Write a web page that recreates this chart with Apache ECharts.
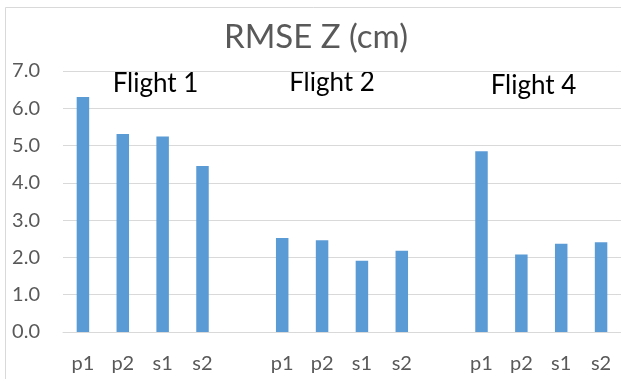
<!DOCTYPE html>
<html>
<head>
<meta charset="utf-8">
<script src="https://cdn.jsdelivr.net/npm/echarts@6/dist/echarts.min.js"></script>
<style>html,body{margin:0;padding:0;background:#fff;}#c{width:621px;height:379px;}</style>
</head>
<body>
<div id="c"></div>
<script>
const titleText = 'RMSE Z (cm)';
const methods = ['p1', 'p2', 's1', 's2'];
const flights = ['Flight 1', 'Flight 2', 'Flight 4'];
const flight1 = [6.30, 5.31, 5.24, 4.45];
const flight2 = [2.52, 2.46, 1.91, 2.18];
const flight4 = [4.85, 2.08, 2.37, 2.41];
const yTicks = [0, 1, 2, 3, 4, 5, 6, 7];

const groups = [flight1, flight2, flight4];
const categories = [];
const values = [];
groups.forEach((g, gi) => {
  methods.forEach((m, i) => { categories.push(m); values.push(g[i]); });
  if (gi < groups.length - 1) { categories.push(''); values.push(null); }
});

const FONT = 'Lato';
const chart = echarts.init(document.getElementById('c'));
chart.setOption({
  animation: false,
  backgroundColor: '#fff',
  grid: { left: 63, right: 0, top: 71, bottom: 47, containLabel: false },
  xAxis: {
    type: 'category',
    data: categories,
    axisLine: { show: true, lineStyle: { color: '#d9d9d9', width: 1 } },
    axisTick: { show: false },
    axisLabel: { color: '#595959', fontFamily: FONT, fontSize: 20, margin: 22, interval: 0 }
  },
  yAxis: {
    type: 'value',
    min: yTicks[0],
    max: yTicks[yTicks.length - 1],
    interval: 1,
    axisLine: { show: false },
    axisTick: { show: false },
    splitLine: { lineStyle: { color: '#d9d9d9', width: 1 } },
    axisLabel: { color: '#595959', fontFamily: FONT, fontSize: 20, margin: 23, formatter: v => v.toFixed(1) }
  },
  series: [{
    type: 'bar',
    data: values,
    barWidth: 12.5,
    itemStyle: { color: '#5b9bd5' }
  }],
  graphic: [
    { type: 'rect', shape: { x: 5.5, y: 7.5, width: 700, height: 500 }, style: { fill: 'none', stroke: '#d9d9d9', lineWidth: 1 }, silent: true, z: -1 },
    { type: 'text', x: 316, y: 37, style: { text: titleText, font: '33px ' + FONT, fill: '#595959', textAlign: 'center', textVerticalAlign: 'middle' } },
    { type: 'text', x: 155.5, y: 84, style: { text: flights[0], font: '26px ' + FONT, fill: '#000', textAlign: 'center', textVerticalAlign: 'middle' } },
    { type: 'text', x: 332, y: 82.5, style: { text: flights[1], font: '26px ' + FONT, fill: '#000', textAlign: 'center', textVerticalAlign: 'middle' } },
    { type: 'text', x: 533.5, y: 85.5, style: { text: flights[2], font: '26px ' + FONT, fill: '#000', textAlign: 'center', textVerticalAlign: 'middle' } }
  ]
});
</script>
</body>
</html>
